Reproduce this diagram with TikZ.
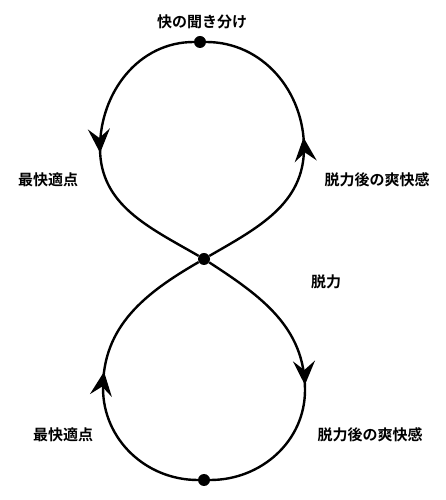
\documentclass[tikz,border=0pt]{standalone}
\usepackage{fontspec}
\newfontfamily\jpfont[BoldFont={Noto Sans CJK JP Bold}]{Noto Sans CJK JP}
\usetikzlibrary{arrows.meta, decorations.markings}

\tikzstyle{point}=[circle, fill, inner sep=0pt, minimum size=12pt]
\tikzstyle{caption}=[font=\jpfont\bfseries\fontsize{15}{18}\selectfont]
\tikzstyle{lobe}=[draw, line width=2.4pt, postaction={decorate},
	decoration={markings, mark=at position 0.52 with {\arrow{Stealth[length=24pt, width=22pt, inset=9pt]}}}]

\begin{document}
\begin{tikzpicture}[x=1pt, y=1pt]
	\useasboundingbox (0,0) rectangle (445,500);
	\foreach \pos/\name in {{(200,458)/top}, {(204,241)/mid}, {(204,20)/bot}}
		\node[point] (\name) at \pos {};
	\foreach \x/\y/\name in {100/352/ul, 304/352/ur, 103/112/ll, 305/110/lr}
		\coordinate (\name) at (\x,\y);
	\foreach \pos/\name/\txt in {{(202,478)/hear/快の聞き分け}, {(48,320)/bestU/最快適点},
				{(377,320)/reliefU/脱力後の爽快感}, {(326,218)/relax/脱力},
				{(63,65)/bestL/最快適点}, {(370,65)/reliefL/脱力後の爽快感}}
		\node[caption] (\name) at \pos {\txt};
	\path[lobe] (top) to[out=180, in=90] (ul) to[out=270, in=150] (mid);
	\path[lobe] (mid) to[out=30, in=270] (ur) to[out=90, in=0] (top);
	\path[lobe] (mid) to[out=-33, in=90] (lr) to[out=270, in=0] (bot);
	\path[lobe] (bot) to[out=180, in=270] (ll) to[out=90, in=210] (mid);
\end{tikzpicture}
\end{document}
